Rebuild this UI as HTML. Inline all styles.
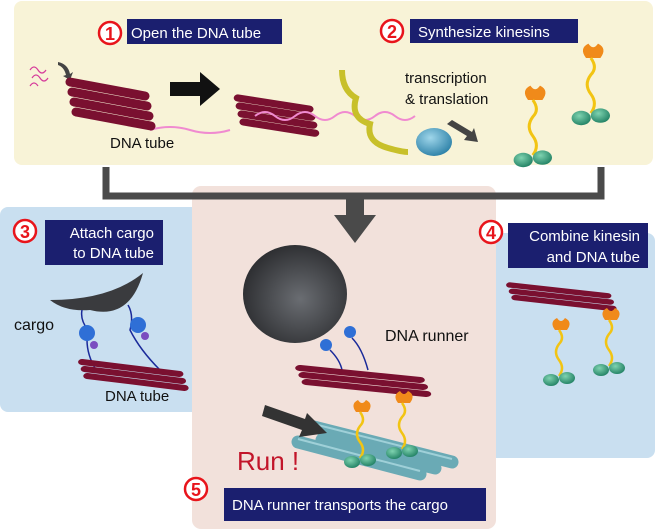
<!DOCTYPE html>
<html><head><meta charset="utf-8"><style>
body{margin:0;background:#fff}
svg{display:block}
text{font-family:"Liberation Sans",sans-serif}
</style></head><body>
<svg width="657" height="531" viewBox="0 0 657 531" xmlns="http://www.w3.org/2000/svg">
<defs>
<radialGradient id="sph" cx="0.55" cy="0.55" r="0.6"><stop offset="0" stop-color="#6a6d72"/><stop offset="1" stop-color="#2a2b2e"/></radialGradient>
<radialGradient id="grn" cx="0.4" cy="0.35" r="0.7"><stop offset="0" stop-color="#7fd3b0"/><stop offset="1" stop-color="#1f7f62"/></radialGradient>
<radialGradient id="blu" cx="0.4" cy="0.35" r="0.7"><stop offset="0" stop-color="#9fd6ea"/><stop offset="1" stop-color="#2a7fa6"/></radialGradient>
<g id="tube"><g stroke="#7a1030" stroke-width="6" stroke-linecap="round"><line x1="0" y1="0" x2="75" y2="12"/><line x1="2" y1="7" x2="77" y2="19"/><line x1="4" y1="14" x2="79" y2="26"/></g></g>
<g id="fat"><g stroke="#7a1030" stroke-width="9" stroke-linecap="round"><line x1="0" y1="0" x2="75" y2="14"/><line x1="2" y1="10" x2="77" y2="24"/><line x1="4" y1="20" x2="79" y2="34"/><line x1="6" y1="30" x2="81" y2="44"/></g></g>
<g id="kin"><path d="M0 0 q-6 -8 2 -12 q4 6 8 0 q8 4 2 12 z" fill="#f08a1a"/><path d="M4 0 q6 8 0 14 q-6 8 0 16 q6 8 0 16" fill="none" stroke="#f2c413" stroke-width="2.5"/><ellipse cx="-4" cy="50" rx="8" ry="6" fill="url(#grn)"/><ellipse cx="12" cy="48" rx="8" ry="6" fill="url(#grn)"/></g>
</defs>
<rect x="14" y="1" width="639" height="164" rx="8" fill="#f8f3d7"/>
<rect x="0" y="207" width="200" height="205" rx="8" fill="#c9dff0"/>
<rect x="488" y="233" width="167" height="225" rx="8" fill="#c9dff0"/>
<rect x="192" y="186" width="304" height="343" rx="9" fill="#f2e1db"/>
<path d="M106 167 V196 H601 V167" fill="none" stroke="#4a4a4a" stroke-width="7"/>
<path d="M346 198 h18 v17 h12 l-21 28 l-21 -28 h12 z" fill="#4a4a4a"/>
<circle cx="110" cy="33" r="11" fill="#fff" stroke="#e8141b" stroke-width="2.5"/>
<text x="110" y="40" font-size="18" font-weight="bold" fill="#e8141b" text-anchor="middle">1</text>
<rect x="127" y="19" width="155" height="25" fill="#1b1f6f"/>
<text x="131" y="38" font-size="15" fill="#fff">Open the DNA tube</text>
<path d="M30 70 q4 -6 8 0 q4 6 8 0 M32 78 q4 -6 8 0 q4 6 8 0 M30 86 q4 -6 8 0" fill="none" stroke="#d63a9a" stroke-width="1.2"/>
<path d="M58 62 q10 2 12 12 l3 -2 -3 8 -7 -4 3 -1 q-2 -8 -8 -10z" fill="#444"/>
<path d="M150 130 q20 -6 40 0 q20 6 40 0" fill="none" stroke="#f08ad0" stroke-width="2"/>
<use href="#fat" transform="translate(70,82)"/>
<text x="110" y="148" font-size="15" fill="#111">DNA tube</text>
<path d="M170 100 h30 v-10 l20 17 -20 17 v-10 h-30z" fill="#111" transform="translate(0,-18)"/>
<use href="#fat" transform="translate(238,98) scale(0.95,0.8)"/>
<path d="M255 116 q10 -8 20 0 q10 8 20 0 q10 -8 20 0 q10 8 20 0 q10 -8 20 0 q10 8 20 0 q10 -8 20 0 q10 8 20 0" fill="none" stroke="#f08ad0" stroke-width="2"/>
<path d="M342 70 q0 20 14 28 q-6 20 14 26 q-4 18 18 24 q14 4 20 4" fill="none" stroke="#c8c02a" stroke-width="6"/>
<ellipse cx="434" cy="142" rx="18" ry="14" fill="url(#blu)"/>
<text x="405" y="83" font-size="15" fill="#111">transcription</text>
<text x="405" y="104" font-size="15" fill="#111">&amp; translation</text>
<path d="M452 120 l20 12 2 -4 4 14 -14 -2 3 -4 -20 -12z" fill="#444"/>
<circle cx="392" cy="31" r="11" fill="#fff" stroke="#e8141b" stroke-width="2.5"/>
<text x="392" y="38" font-size="18" font-weight="bold" fill="#e8141b" text-anchor="middle">2</text>
<rect x="410" y="19" width="168" height="24" fill="#1b1f6f"/>
<text x="418" y="37" font-size="15" fill="#fff">Synthesize kinesins</text>
<g transform="translate(528,100) scale(1.2)"><use href="#kin"/></g>
<g transform="translate(586,58) scale(1.2)"><use href="#kin"/></g>
<circle cx="25" cy="231" r="11" fill="#fff" stroke="#e8141b" stroke-width="2.5"/>
<text x="25" y="238" font-size="18" font-weight="bold" fill="#e8141b" text-anchor="middle">3</text>
<rect x="45" y="220" width="118" height="45" fill="#1b1f6f"/>
<text x="154" y="238" font-size="15" fill="#fff" text-anchor="end">Attach cargo</text>
<text x="154" y="258" font-size="15" fill="#fff" text-anchor="end">to DNA tube</text>
<path d="M50 300 Q110 300 143 273 Q130 320 90 310 Q65 312 50 300z" fill="#3a3b3e"/>
<text x="14" y="330" font-size="16" fill="#111">cargo</text>
<path d="M82 310 q-2 10 6 20 q-4 20 8 40 M128 305 q6 10 2 25 q10 20 30 40" fill="none" stroke="#1a2a9a" stroke-width="1.5"/>
<circle cx="87" cy="333" r="8" fill="#2f6fd6"/><circle cx="138" cy="325" r="8" fill="#2f6fd6"/>
<circle cx="94" cy="345" r="4" fill="#7a4cc0"/><circle cx="145" cy="336" r="4" fill="#7a4cc0"/>
<g transform="translate(82,362)"><use href="#tube" transform="scale(1.3,1)"/></g>
<text x="105" y="401" font-size="15" fill="#111">DNA tube</text>
<circle cx="491" cy="232" r="11" fill="#fff" stroke="#e8141b" stroke-width="2.5"/>
<text x="491" y="239" font-size="18" font-weight="bold" fill="#e8141b" text-anchor="middle">4</text>
<rect x="508" y="223" width="140" height="45" fill="#1b1f6f"/>
<text x="640" y="241" font-size="15" fill="#fff" text-anchor="end">Combine kinesin</text>
<text x="640" y="262" font-size="15" fill="#fff" text-anchor="end">and DNA tube</text>
<g transform="translate(510,285)"><use href="#tube" transform="scale(1.3,0.9)"/></g>
<g transform="translate(555,330)"><use href="#kin"/></g>
<g transform="translate(605,320)"><use href="#kin"/></g>
<ellipse cx="295" cy="294" rx="52" ry="49" fill="url(#sph)"/>
<text x="385" y="341" font-size="16" fill="#111">DNA runner</text>
<circle cx="326" cy="345" r="6" fill="#2f6fd6"/><circle cx="350" cy="332" r="6" fill="#2f6fd6"/>
<path d="M330 350 q10 10 12 20 M352 338 q10 10 16 32" fill="none" stroke="#1a2a9a" stroke-width="1.5"/>
<g transform="translate(300,368)"><use href="#tube" transform="scale(1.6,1)"/></g>
<g stroke="#6aaab5" stroke-width="13" stroke-linecap="round">
<line x1="310" y1="426" x2="452" y2="462"/>
<line x1="298" y1="442" x2="420" y2="474"/>
<line x1="322" y1="440" x2="435" y2="468"/>
</g>
<g stroke="#9fd0d8" stroke-width="2" fill="none"><line x1="310" y1="423" x2="452" y2="459"/><line x1="298" y1="439" x2="420" y2="471"/></g>
<g transform="translate(356,412)"><use href="#kin"/></g>
<g transform="translate(398,403)"><use href="#kin"/></g>
<path d="M265 405 l40 14 2 -6 20 20 -28 4 3 -7 -40 -14z" fill="#333"/>
<text x="237" y="470" font-size="26" fill="#c2152a">Run !</text>
<circle cx="196" cy="489" r="11" fill="#fff" stroke="#e8141b" stroke-width="2.5"/>
<text x="196" y="496" font-size="18" font-weight="bold" fill="#e8141b" text-anchor="middle">5</text>
<rect x="224" y="488" width="262" height="33" fill="#1b1f6f"/>
<text x="232" y="510" font-size="15" fill="#fff">DNA runner transports the cargo</text>
</svg>
</body></html>
